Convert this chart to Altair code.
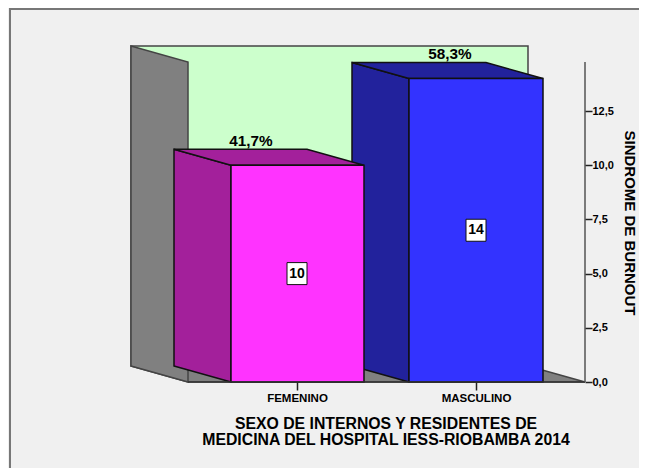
import altair as alt
import pandas as pd

# --- data ---
categories = ["FEMENINO", "MASCULINO"]
counts = [10, 14]
percents = ["41,7%", "58,3%"]
y_ticks = [0, 2.5, 5, 7.5, 10, 12.5]
front_colors = ["#FF33FF", "#3333FF"]
side_colors = ["#A3209B", "#22229C"]

# --- layout of the pseudo-3D scene (x in page pixels, y in data units) ---
W, H = 631, 460
PX_PER_UNIT = 21.68
ZERO_PAGE_Y = 382
DX = 57
DV = 16 / PX_PER_UNIT
AXIS_MAX = 14.76
FLOOR_L, FLOOR_R = 188, 585
BAR_L = [231, 409]
BAR_R = [364, 543]
CENTERS = [297, 476]
PCT_X = [251, 450]
PCT_Y = [141, 54]
EDGE = "#111111"
WALL_EDGE = "#444444"

x_scale = alt.Scale(domain=[8, 8 + W], range=[0, W], nice=False, zero=False)
y_scale = alt.Scale(
    domain=[(ZERO_PAGE_Y - (8 + H)) / PX_PER_UNIT, (ZERO_PAGE_Y - 8) / PX_PER_UNIT],
    range=[H, 0], nice=False, zero=False,
)

cat_lookup = " : ".join([f"datum.value == {c} ? '{n}'" for c, n in zip(CENTERS, categories)] + ["''"])
x_axis = alt.Axis(values=CENTERS, labelExpr=cat_lookup, orient="bottom", offset=ZERO_PAGE_Y - (8 + H),
                  domain=False, grid=False, title=None, tickSize=8, tickColor="#222222", tickWidth=1.5,
                  labelFont="Liberation Sans", labelFontWeight="bold", labelFontSize=11.5, labelColor="black",
                  labelPadding=2, zindex=1)
y_axis = alt.Axis(values=y_ticks, labelExpr="replace(format(datum.value, '.1f'), '.', ',')", orient="right",
                  offset=FLOOR_R - (8 + W), domain=False, grid=False, title=None, tickSize=7,
                  tickColor="#222222", tickWidth=1.5, labelFont="Liberation Sans", labelFontWeight="bold",
                  labelFontSize=11, labelColor="black", labelPadding=0, zindex=1)
X = lambda f="x": alt.X(f"{f}:Q", scale=x_scale, axis=x_axis)
Y = lambda f="y": alt.Y(f"{f}:Q", scale=y_scale, axis=y_axis)


def vface(x0, x1, b0, t0, b1, t1, fill, edge=EDGE, sw=1.5):
    """Face with two vertical edges."""
    d = pd.DataFrame({"x": [x0, x1], "y": [b0, b1], "y2": [t0, t1]})
    return alt.Chart(d).mark_area(fill=fill, stroke=edge, strokeWidth=sw, strokeJoin="miter").encode(
        x=X(), y=Y(), y2="y2:Q")


def hface(v0, l0, r0, v1, l1, r1, fill, edge=EDGE, sw=1.5):
    """Face with two horizontal edges."""
    d = pd.DataFrame({"y": [v0, v1], "x": [l0, l1], "x2": [r0, r1]})
    return alt.Chart(d).mark_area(orient="horizontal", fill=fill, stroke=edge, strokeWidth=sw,
                                  strokeJoin="miter").encode(x=X(), x2="x2:Q", y=Y())


def px(v):
    return alt.value(v - 8)


def page_text(txt, x, y, size, **kw):
    return alt.Chart(pd.DataFrame({"t": [txt]})).mark_text(
        font="Liberation Sans", fontWeight="bold", fontSize=size, color="#000000",
        baseline="middle", **kw).encode(x=px(x), y=px(y), text="t:N")


layers = []

# frame
layers.append(alt.Chart(pd.DataFrame({"a": [0]})).mark_rule(color="#777777", strokeWidth=2).encode(
    x=alt.value(2), y=alt.value(0), y2=alt.value(H)))
layers.append(alt.Chart(pd.DataFrame({"a": [0]})).mark_rule(color="#777777", strokeWidth=2).encode(
    x=alt.value(1), x2=alt.value(W), y=alt.value(1)))

# back wall, floor, side wall
layers.append(vface(FLOOR_L - DX, FLOOR_R - DX, DV, AXIS_MAX + DV, DV, AXIS_MAX + DV, "#CCFFCC", WALL_EDGE))
layers.append(hface(0, FLOOR_L, FLOOR_R, DV, FLOOR_L - DX, FLOOR_R - DX, "#808080", WALL_EDGE))
layers.append(vface(FLOOR_L - DX, FLOOR_L, DV, AXIS_MAX + DV, 0, AXIS_MAX, "#808080", WALL_EDGE))

# bars, back one first
for i in [1, 0]:
    v = counts[i]
    l, r = BAR_L[i], BAR_R[i]
    layers.append(vface(l - DX, l, DV, v + DV, 0, v, side_colors[i]))
    layers.append(hface(v, l, r, v + DV, l - DX, r - DX, side_colors[i]))
    front = pd.DataFrame({"x": [l], "x2": [r], "y": [0], "y2": [v]})
    layers.append(alt.Chart(front).mark_rect(fill=front_colors[i], stroke=EDGE, strokeWidth=1.5).encode(
        x=X(), x2="x2:Q", y=Y(), y2="y2:Q"))

# axis lines
layers.append(alt.Chart(pd.DataFrame({"x": [FLOOR_L], "x2": [FLOOR_R], "y": [0]})).mark_rule(
    color="#333333", strokeWidth=1.5).encode(x=X(), x2="x2:Q", y=Y()))
layers.append(alt.Chart(pd.DataFrame({"x": [FLOOR_R], "y": [0], "y2": [AXIS_MAX]})).mark_rule(
    color="#555555", strokeWidth=1.5).encode(x=X(), y=Y(), y2="y2:Q"))

# value labels in boxes and percentages
for i in range(2):
    d = pd.DataFrame({"x": [CENTERS[i]], "y": [counts[i] / 2], "t": [str(counts[i])]})
    base = alt.Chart(d)
    layers.append(base.mark_rect(width=20, height=22, fill="white", stroke="#111111", strokeWidth=1).encode(
        x=X(), y=Y()))
    layers.append(base.mark_text(font="Liberation Sans", fontWeight="bold", fontSize=14, color="black",
                                 baseline="middle").encode(x=X(), y=Y(), text="t:N"))
    layers.append(page_text(percents[i], PCT_X[i], PCT_Y[i], 15.3))

# titles
layers.append(page_text("SEXO DE INTERNOS Y RESIDENTES DE", 386, 424, 15.8))
layers.append(page_text("MEDICINA DEL HOSPITAL IESS-RIOBAMBA 2014", 386, 440, 15.8))
layers.append(page_text("SINDROME DE BURNOUT", 630, 223, 15, angle=90))

chart = alt.layer(*layers).properties(
    width=W, height=H, background="#F0F0F0", padding=0,
    autosize=alt.AutoSizeParams(type="none"),
).configure_view(stroke=None)

chart.save("out.html", embed_options={"renderer": "svg", "actions": False})
